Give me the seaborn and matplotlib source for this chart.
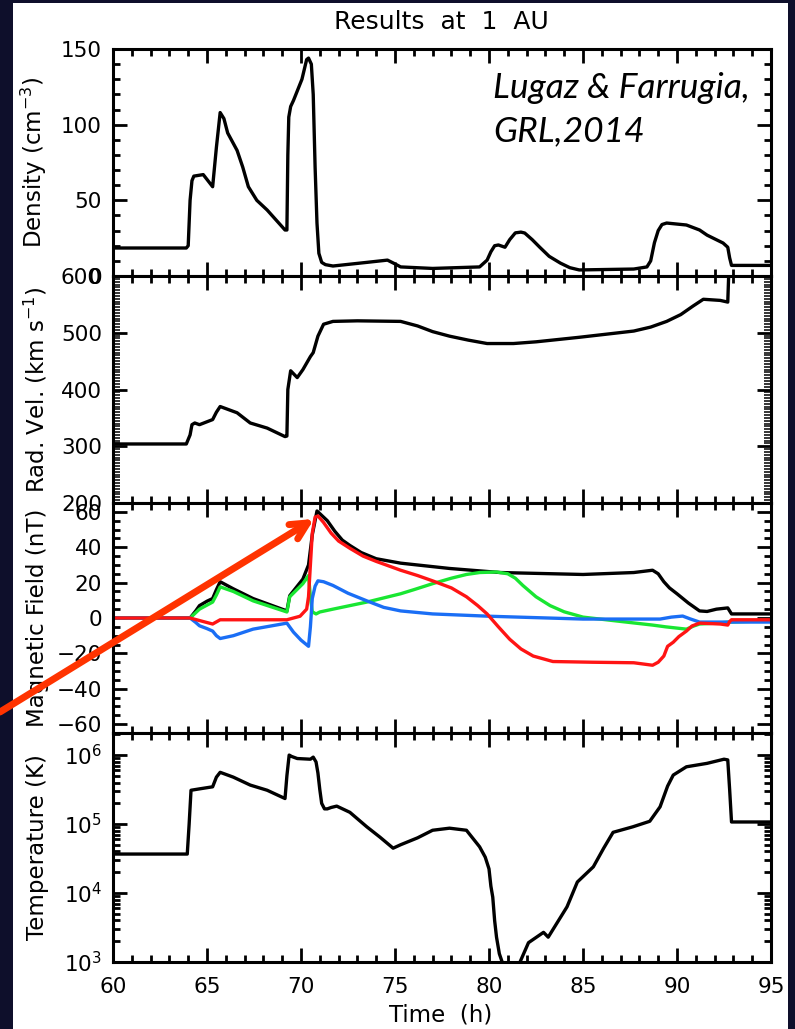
import numpy as np
import pandas as pd
import matplotlib
matplotlib.use("Agg")
import matplotlib.pyplot as plt
import seaborn as sns
from matplotlib.patches import Rectangle
from matplotlib.ticker import MultipleLocator, LogLocator, NullFormatter, LogFormatterMathtext

# ---------------- data ----------------
dens_t = [60.0, 63.9, 64.0, 64.1, 64.2, 64.3, 64.8, 65.3, 65.5, 65.7, 65.9, 66.1, 66.6, 66.9,
          67.2, 67.65, 68.2, 69.15, 69.25, 69.3, 69.35, 69.45, 69.6, 70.05, 70.3, 70.4,
          70.55, 70.65, 70.75, 70.85, 70.95, 71.1, 71.3, 71.7, 73.5, 74.6, 75.0, 75.3,
          77.0, 79.5, 79.9, 80.1, 80.3, 80.5, 80.85, 81.1, 81.4, 81.7, 81.9, 82.3, 82.7,
          83.2, 83.8, 84.3, 84.8, 87.7, 88.4, 88.6, 88.8, 89.0, 89.2, 89.45, 90.5, 91.2,
          91.6, 92.45, 92.7, 92.8, 92.9, 95.0]
dens_v = [18.5, 18.5, 20, 50, 63, 66, 67, 59, 85, 108, 104, 94.5, 83, 72,
          59, 50, 43.6, 30.4, 30.4, 80, 105, 112, 116, 130, 143, 144,
          140, 120, 72, 35, 15, 9, 7.5, 6.6, 9, 10.5, 8, 6,
          5, 6, 10.5, 16, 20, 20.5, 19, 24, 28.5, 29, 28.4, 24, 19,
          13, 8.5, 5.5, 4, 4.6, 6, 10, 22, 30, 34, 35, 33.7, 30.4,
          27, 21.8, 19, 12, 7, 7]

vel_t = [60.0, 63.9, 64.1, 64.2, 64.35, 64.6, 65.3, 65.5, 65.7, 66.6, 67.3, 68.2, 69.15,
         69.25, 69.3, 69.45, 69.8, 70.1, 70.5, 70.65, 70.9, 71.2, 71.7, 73.0, 75.3, 76.2,
         77.0, 77.9, 78.9, 79.9, 81.3, 82.5, 84.8, 87.7, 88.6, 89.45, 90.2, 90.85, 91.4,
         92.3, 92.7, 92.8, 95.0]
vel_v = [304, 304, 320, 338, 341, 338, 347, 360, 370, 359, 341, 332, 317,
         318, 400, 433, 421, 435, 458, 465, 494, 515, 520, 521, 520, 512,
         502, 494, 487, 481, 481, 484, 492, 503, 510, 520, 532, 547, 559,
         557, 554, 650, 650]

bt_t = [60.0, 64.1, 64.4, 64.6, 65.0, 65.3, 65.5, 65.7, 66.4, 67.45, 69.25, 69.4, 70.1, 70.4,
        70.6, 70.85, 71.1, 71.4, 71.8, 72.2, 72.6, 73.2, 74.0, 75.3, 77.9, 80.6, 85.0,
        87.7, 88.7, 89.0, 89.3, 89.6, 90.0, 90.6, 91.2, 91.6, 92.1, 92.7, 92.8, 92.9, 95.0]
bt_v = [0, 0, 4, 7, 9.5, 11, 16, 20.5, 16.5, 11, 4, 12.6, 22, 30,
        47, 60.5, 58, 55, 49, 44, 41, 37, 33.5, 31, 28, 25.7, 24.6,
        25.7, 27, 25, 20.5, 17, 13.7, 8.5, 4, 3.7, 5, 5.7, 4, 2.3, 2.3]

bg_t = [60.0, 64.1, 64.6, 65.3, 65.5, 65.7, 66.4, 67.45, 69.25, 69.4, 70.1, 70.4, 70.5,
        70.6, 70.8, 71.0, 71.7, 73.5, 75.3, 76.0, 77.0, 78.0, 78.8, 79.5, 80.4, 81.0,
        81.4, 81.8, 82.5, 83.25, 84.0, 85.0, 86.8, 88.7, 89.4, 90.5, 90.9, 91.2, 92.1,
        92.8, 95.0]
bg_v = [0, 0, 5, 9, 13, 17.6, 15, 9.7, 3.4, 12, 19.4, 24, 12,
        3.5, 2.3, 3.4, 5, 9, 13.7, 16, 19.4, 22.5, 24.6, 25.7, 26, 25,
        22.5, 18.4, 12, 7, 3.5, 0.5, -1.7, -4, -5, -6.3, -4.5, -3.4, -2.9,
        -2.3, -1.5]

bb_t = [60.0, 64.1, 64.4, 64.6, 65.0, 65.3, 65.5, 65.7, 66.4, 67.45, 69.25, 69.6, 70.0,
        70.4, 70.5, 70.6, 70.75, 70.9, 71.2, 71.7, 72.5, 73.5, 74.4, 75.3, 77.0, 80.0,
        85.0, 89.1, 89.7, 90.3, 90.7, 91.2, 95.0]
bb_v = [0, 0, -2.5, -4.4, -6, -7.4, -10, -11.6, -10, -6.3, -2.9, -8, -12.5,
        -16, -5, 11, 18, 21, 20.5, 18.4, 14, 9.7, 6, 4, 2.3, 1,
        -0.6, -0.6, 0.5, 1.1, -0.5, -2.3, -2.3]

br_t = [60.0, 64.1, 64.8, 65.3, 65.7, 69.25, 69.95, 70.3, 70.4, 70.5, 70.6, 70.75, 70.9,
        71.2, 71.6, 72.0, 72.6, 73.3, 74.0, 75.3, 76.2, 77.0, 78.0, 78.8, 79.4, 79.9,
        80.5, 81.1, 81.7, 82.35, 83.4, 85.5, 87.7, 88.7, 89.0, 89.3, 89.5, 89.8, 90.1,
        90.5, 90.8, 91.2, 92.3, 92.7, 92.8, 92.9, 95.0]
br_v = [0, 0, -2, -3.4, -1, -1, 1, 5, 12, 30, 48, 57, 57.7,
        54, 48, 43.5, 39.4, 35, 32, 27, 24, 21, 17, 12, 7, 2.3,
        -5, -12, -17.5, -21.5, -24.6, -25, -25.3, -26.7, -25, -21.5, -16, -13.7, -10.5,
        -7.4, -4.5, -2.9, -3.4, -4, -2, -1, -1]

temp_t = [60.0, 63.95, 64.05, 64.15, 64.6, 65.3, 65.5, 65.7, 66.4, 67.3, 68.2, 69.15, 69.25,
          69.37, 69.5, 69.8, 70.5, 70.65, 70.8, 70.9, 71.0, 71.1, 71.25, 71.4, 71.6, 71.9,
          72.6, 73.5, 74.2, 74.9, 75.3, 76.2, 77.0, 77.9, 78.8, 79.5, 79.8, 80.0, 80.1,
          80.2, 80.3, 80.4, 80.55, 80.7, 81.1, 81.65, 82.1, 82.9, 83.15, 84.15, 84.7,
          85.55, 86.1, 86.6, 87.65, 88.55, 89.1, 89.5, 89.8, 90.5, 91.6, 92.5, 92.7,
          92.8, 92.9, 95.0]
temp_log = [4.565, 4.565, 5.0, 5.49, 5.51, 5.54, 5.68, 5.75, 5.68, 5.565, 5.49, 5.37, 5.7,
            6.0, 5.98, 5.95, 5.94, 5.97, 5.9, 5.74, 5.5, 5.30, 5.22, 5.22, 5.24, 5.26,
            5.17, 4.96, 4.81, 4.65, 4.70, 4.80, 4.91, 4.94, 4.91, 4.67, 4.52, 4.35, 4.1,
            3.94, 3.6, 3.36, 3.12, 3.0, 2.6, 3.0, 3.28, 3.43, 3.36, 3.80, 4.16,
            4.38, 4.65, 4.88, 4.96, 5.04, 5.25, 5.55, 5.71, 5.83, 5.88, 5.94, 5.93,
            5.5, 5.03, 5.03]

x_ticks = [60, 65, 70, 75, 80, 85, 90, 95]

# ---------------- figure ----------------
sns.set_theme(style="ticks")
plt.rcParams["font.family"] = ["DejaVu Sans"]
plt.rcParams["mathtext.default"] = "regular"

W, H = 795, 1029
fig = plt.figure(figsize=(W / 100, H / 100), dpi=100, facecolor="#0e0f2b")
fig.patches.append(Rectangle((13 / W, 0), (788 - 13) / W, (1029 - 3) / H,
                             transform=fig.transFigure, facecolor="white",
                             edgecolor="none", zorder=-10))

left = 113 / W
width = (771 - 113) / W
panels_px = [(49, 276), (276, 503), (503, 733), (733, 962)]
axes = []
for top, bot in panels_px:
    ax = fig.add_axes([left, 1 - bot / H, width, (bot - top) / H])
    ax.set_facecolor("white")
    axes.append(ax)

LW = 2.4
blk = "black"
green = "#19e632"
blue = "#1a6ef5"
red = "#ff1414"
kw = dict(lw=LW, estimator=None, sort=False, solid_joinstyle="round", solid_capstyle="round")

df_d = pd.DataFrame({"t": dens_t, "v": dens_v})
sns.lineplot(data=df_d, x="t", y="v", ax=axes[0], color=blk, **kw)

df_v = pd.DataFrame({"t": vel_t, "v": vel_v})
sns.lineplot(data=df_v, x="t", y="v", ax=axes[1], color=blk, **kw)

sns.lineplot(x=bt_t, y=bt_v, ax=axes[2], color=blk, **kw)
sns.lineplot(x=bg_t, y=bg_v, ax=axes[2], color=green, **kw)
sns.lineplot(x=bb_t, y=bb_v, ax=axes[2], color=blue, **kw)
sns.lineplot(x=br_t, y=br_v, ax=axes[2], color=red, **kw)

temp_v = [10 ** v for v in temp_log]
sns.lineplot(x=temp_t, y=temp_v, ax=axes[3], color=blk, **kw)
axes[3].set_yscale("log")

# ---------------- axes styling ----------------
axes[0].set_ylim(0, 150)
axes[0].yaxis.set_major_locator(MultipleLocator(50))
axes[0].yaxis.set_minor_locator(MultipleLocator(10))
axes[1].set_ylim(200, 600)
axes[1].yaxis.set_major_locator(MultipleLocator(100))
axes[1].yaxis.set_minor_locator(MultipleLocator(5))
axes[2].set_ylim(-65, 65)
axes[2].yaxis.set_major_locator(MultipleLocator(20))
axes[2].yaxis.set_minor_locator(MultipleLocator(5))
axes[3].set_ylim(1e3, 10 ** 6.32)
axes[3].yaxis.set_major_locator(LogLocator(base=10, numticks=10))
axes[3].yaxis.set_minor_locator(LogLocator(base=10, subs=np.arange(2, 10), numticks=20))
axes[3].yaxis.set_major_formatter(LogFormatterMathtext())
axes[3].yaxis.set_minor_formatter(NullFormatter())

ylabels = [r"Density (cm$^{-3}$)", r"Rad. Vel. (km s$^{-1}$)",
           "Magnetic Field (nT)", "Temperature (K)"]
for i, ax in enumerate(axes):
    ax.set_xlim(60, 95)
    ax.set_xticks(x_ticks)
    ax.xaxis.set_minor_locator(MultipleLocator(1))
    ax.tick_params(which="both", direction="in", top=True, right=True, width=2,
                   labelsize=15.5, colors="black")
    ax.tick_params(axis="y", pad=8)
    ax.tick_params(axis="x", pad=11)
    ax.tick_params(which="major", length=10)
    ax.tick_params(which="minor", length=5)
    for s in ax.spines.values():
        s.set_linewidth(2.2)
        s.set_color("black")
        s.set_visible(True)
    ax.set_ylabel(ylabels[i], fontsize=16.5, color="black")
    ax.yaxis.set_label_coords(-0.097, 0.5)
    ax.set_xlabel("")
    if i < 3:
        ax.tick_params(labelbottom=False)
    ax.grid(False)

axes[1].tick_params(axis="y", which="minor", width=1.1)

fig.text(441 / W, 1 - 1015 / H, "Time  (h)", ha="center", va="center",
         fontsize=16.5, color="black")
fig.text(441 / W, 1 - 22 / H, "Results  at  1  AU", ha="center", va="center",
         fontsize=18, color="black")
fig.text(493 / W, 1 - 88 / H, "Lugaz & Farrugia,", ha="left", va="center",
         fontsize=25.5, style="italic", family=["Lato", "DejaVu Sans"], color="black")
fig.text(493 / W, 1 - 131 / H, "GRL,2014", ha="left", va="center",
         fontsize=25.5, style="italic", family=["Lato", "DejaVu Sans"], color="black")

# red arrow pointing at the magnetic field peak
axes[2].annotate("", xy=(70.7, 56), xycoords="data",
                 xytext=(0.0, 1 - 712 / H), textcoords="figure fraction",
                 arrowprops=dict(arrowstyle="->,head_length=1.0,head_width=0.5",
                                 color="#ff3300", lw=5, shrinkA=0, shrinkB=0),
                 annotation_clip=False, zorder=10)

fig.savefig("out.png", dpi=100, facecolor=fig.get_facecolor())
